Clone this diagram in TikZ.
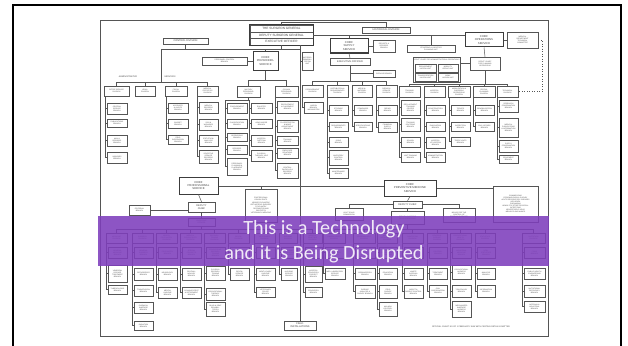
\documentclass[tikz,border=0pt]{standalone}
\usepackage{fontspec}
\setmainfont{Carlito}
\newfontfamily\chartfont{Liberation Sans}
\usetikzlibrary{calc}
\definecolor{chartln}{RGB}{85,85,85}
\definecolor{charttx}{RGB}{70,70,70}
\definecolor{bannerpurple}{RGB}{126,62,188}
\definecolor{bannertx}{RGB}{240,233,247}
\tikzset{
  ob/.style={draw=chartln, line width=0.5pt, inner sep=0.3pt, align=center,
    text=charttx, font=\chartfont\fontsize{1.75}{2.05}\selectfont},
  obk/.style={line width=1pt, draw=chartln!70!black,
    font=\chartfont\fontsize{2.8}{3.1}\selectfont},
  obmid/.style={font=\chartfont\fontsize{2.5}{2.8}\selectfont},
  obtop/.style={font=\chartfont\fontsize{3.1}{3.4}\selectfont},
  ln/.style={draw=chartln, line width=0.5pt},
  dotln/.style={draw=chartln, line width=0.5pt, dotted},
  lbl/.style={text=charttx, inner sep=0, font=\chartfont\itshape\fontsize{2.2}{2.4}\selectfont},
  bannertext/.style={text=bannertx, inner sep=0, anchor=base, font=\fontsize{20.2}{22}\selectfont},
}
% box given by its corners: [options]{name}{x1}{y1}{x2}{y2}{text}
\newcommand\orgbox[7][]{\node[ob,#1,minimum width={(#5-#3)*1pt},minimum height={(#6-#4)*1pt}]
  (#2) at ({(#3+#5)/2},{(#4+#6)/2}) {#7};}
% a column of branches hanging from the line left of them; #1 gives the top of that line
\newcommand\branchcol[2]{\foreach \b in {#2}{%
  \draw[ln] ([xshift=-1.5pt]\b.west |- #1) -- ([xshift=-1.5pt]\b.west) -- (\b.west);}}
% a row of divisions hanging from a bus at coordinate #1; #2 first, #3 last, #4 all
\newcommand\divbus[4]{%
  \draw[ln] (#2.north |- #1) -- (#3.north |- #1);
  \foreach \d in {#4}{\draw[ln] (\d.north) -- (\d.north |- #1);}}

\begin{document}
\begin{tikzpicture}[x=1pt,y=-1pt]
\useasboundingbox (0,0) rectangle (628,345);
\fill[white] (0,0) rectangle (628,345);

% slide frame and chart frame
\draw[line width=2pt, black] (13,352) -- (13,5) -- (621,5) -- (621,352);
\draw[chartln, line width=0.6pt] (100,20) rectangle (548,336);

% ---------- headquarters ----------
\orgbox[obtop]{sga}{250}{25}{313}{32}{THE SURGEON GENERAL}
\orgbox[obtop]{sgb}{250}{32}{313}{38}{DEPUTY SURGEON GENERAL}
\orgbox[obtop]{sgc}{250}{38}{313}{45}{EXECUTIVE OFFICER}
\draw[chartln!70!black, line width=0.9pt] (sga.north west) rectangle (sgc.south east);
\orgbox[obmid]{hist}{362}{27}{410}{33}{HISTORICAL DIVISION}
\orgbox[obmid]{ctrl}{163}{38}{208}{44}{CONTROL DIVISION}

% ---------- personnel ----------
\orgbox[obk]{cps}{253}{52}{278}{70}{CHIEF\\PERSONNEL\\SERVICE}
\orgbox{pcb}{202}{57}{247}{65}{PERSONNEL CONTROL\\BRANCH}
\orgbox{mdu}{302}{52}{313}{70}{MATERIEL\\DEMOBILI-\\ZATION\\UNIT}

\node[lbl] (admlbl) at (128,77) {ADMINISTRATIVE};
\node[lbl] (svclbl) at (170,77) {SERVICES};
\orgbox{osd}{104}{86}{129}{96}{OFFICE SERVICE\\DIVISION}
\orgbox{leg}{135}{86}{155}{96}{LEGAL\\DIVISION}
\orgbox{fis}{165}{86}{187}{96}{FISCAL\\DIVISION}
\orgbox{msd}{197}{86}{218}{96}{MEDICAL\\STATISTICS\\DIVISION}
\orgbox{mpd}{237}{86}{260}{97}{MILITARY\\PERSONNEL\\DIVISION}
\orgbox{cpd}{275}{86}{298}{97}{CIVILIAN\\PERSONNEL\\DIVISION}

\orgbox{os1}{107}{103}{127}{114}{CENTRAL\\SERVICE\\BRANCH}
\orgbox{os2}{107}{119}{127}{127}{PUBLICATIONS\\BRANCH}
\orgbox{os3}{107}{135}{127}{146}{MAIL \&\\RECORDS\\BRANCH}
\orgbox{os4}{107}{152}{127}{163}{INQUIRIES\\BRANCH}
\orgbox{fi1}{168}{103}{188}{113}{ACCOUNTS\\\& AUDITS\\BRANCH}
\orgbox{fi2}{168}{119}{188}{128}{BUDGET\\BRANCH}
\orgbox{fi3}{168}{135}{188}{144}{FIELD\\SUPERVISION\\BRANCH}
\orgbox{ms1}{199}{102}{218}{113}{MEDICAL\\RECORDS\\BRANCH}
\orgbox{ms2}{199}{119}{218}{130}{SICK \&\\WOUNDED\\BRANCH}
\orgbox{ms3}{199}{135}{218}{146}{STATISTICAL\\ANALYSIS\\BRANCH}
\orgbox{ms4}{199}{150}{218}{163}{SELECTIVE\\SERVICE\\RECORDS\\BRANCH}
\orgbox{ml1}{227}{103}{247}{113}{PROCUREMENT\\BRANCH}
\orgbox{ml2}{227}{119}{247}{128}{CLASSIFICATION\\BRANCH}
\orgbox{ml3}{227}{133}{247}{141}{OPERATIONS\\BRANCH}
\orgbox{ml4}{227}{145}{247}{154}{RECORDS\\BRANCH}
\orgbox{ml5}{227}{158}{247}{175}{PERSONNEL\\PLANNING \&\\PLACEMENT\\BRANCH}
\orgbox{mr1}{251}{103}{272}{113}{ENLISTED\\BRANCH}
\orgbox{mr2}{251}{119}{272}{128}{ARMY NURSE\\BRANCH}
\orgbox{mr3}{251}{135}{272}{146}{HOSPITAL\\DIETITIAN\\BRANCH}
\orgbox{mr4}{251}{150}{272}{161}{PHYSICAL\\THERAPY AIDE\\BRANCH}
\orgbox{cp1}{277}{101}{298}{113}{RECRUITMENT\\\& PLACEMENT\\BRANCH}
\orgbox{cp2}{277}{120}{298}{132}{CLASSIFICATION\\\& WAGE\\ADJUSTMENT\\BRANCH}
\orgbox{cp3}{277}{136}{298}{145}{TRAINING\\BRANCH}
\orgbox{cp4}{277}{148}{298}{158}{EMPLOYEE\\RELATIONS\\BRANCH}
\orgbox{cp5}{277}{163}{298}{178}{CENTRAL\\PAYROLLS \&\\RECORDS\\BRANCH}

% ---------- supply ----------
\orgbox[obk]{css}{330}{39}{368}{53}{CHIEF\\SUPPLY\\SERVICE}
\orgbox{rrb}{373}{40}{395}{52}{REPORTS \&\\RECORDS\\BRANCH}
\orgbox[obmid]{seo}{330}{58}{370}{65}{EXECUTIVE OFFICER}
\orgbox{cat}{373}{70}{395}{77}{CATALOG BRANCH}
\orgbox{prd}{302}{85}{323}{97}{PROCUREMENT\\DIVISION}
\orgbox{drd}{327}{85}{348}{97}{DISTRIBUTION \&\\REQUIREMENTS\\DIVISION}
\orgbox{mmd}{352}{85}{372}{97}{MEDICAL\\MATERIEL\\DIVISION}
\orgbox{srd}{376}{85}{397}{97}{REPAIR \&\\SERVICE\\DIVISION}
\orgbox{pr1}{304}{102}{323}{113}{LIAISON\\BRANCH\\WASHINGTON}
\orgbox{dr1}{329}{105}{348}{115}{STORAGE\\BRANCH}
\orgbox{dr2}{329}{122}{348}{131}{REQUIREMENTS\\BRANCH}
\orgbox{dr3}{329}{137}{348}{147}{ISSUE\\BRANCH}
\orgbox{dr4}{329}{150}{348}{165}{INVENTORY\\CONTROL\\BRANCH}
\orgbox{dr5}{329}{168}{348}{178}{MAINTENANCE\\BRANCH}
\orgbox{mm1}{354}{105}{372}{115}{STANDARDS\\BRANCH}
\orgbox{mm2}{354}{122}{372}{131}{SPECIFICATIONS\\BRANCH}
\orgbox{sr1}{378}{105}{397}{115}{REPAIR\\BRANCH}
\orgbox{sr2}{378}{122}{397}{132}{FINANCIAL\\SUPPLY\\BRANCH}

% ---------- operations ----------
\orgbox{slp}{407}{45}{455}{52}{STRATEGIC \& LOGISTICS\\PLANNING UNIT}
\orgbox[obk]{cos}{465}{33}{503}{47}{CHIEF\\OPERATIONS\\SERVICE}
\orgbox{mdt}{507}{32}{538}{48}{MEDICAL\\DEPARTMENT\\TECHNICAL\\COMMITTEE}
\orgbox{dca}{413}{57}{460}{82}{}
\node[ob, draw=none] (dcat) at (436.5,60) {DEPUTY CHIEF FOR ADMINISTRATION \& OPERATIONS};
\orgbox{dcu1}{415}{64}{436}{72}{REQUIREMENT\\LIAISON UNIT}
\orgbox{dcu2}{438}{64}{458}{72}{MOBILITY\\GROUP UNIT}
\orgbox{dcu3}{415}{73}{436}{81}{TRANSPORTATION\\LIAISON UNIT}
\orgbox{dcu4}{438}{73}{458}{81}{ARMY\\LIAISON UNIT}
\orgbox{dcp}{470}{57}{500}{70}{DEPUTY CHIEF\\FOR PLANNING\\OPERATIONS}
\orgbox{trd}{399}{86}{420}{97}{TRAINING\\DIVISION}
\orgbox{hod}{424}{86}{445}{97}{HOSPITAL\\DIVISION}
\orgbox{mod}{448}{86}{470}{97}{MOBILIZATION \&\\OVERSEAS\\OPERATIONS\\DIVISION}
\orgbox{spd}{473}{86}{495}{97}{SPECIAL\\PLANNING\\DIVISION}
\orgbox{ted}{497}{86}{518}{97}{TECHNICAL\\DIVISION}
\orgbox{tr1}{401}{100}{420}{115}{REPLACEMENT\\TRAINING\\CENTER\\BRANCH}
\orgbox{tr2}{401}{118}{420}{131}{TRAINING\\DOCTRINE\\BRANCH}
\orgbox{tr3}{401}{137}{420}{147}{SCHOOL\\BRANCH}
\orgbox{tr4}{401}{152}{420}{162}{UNIT TRAINING\\BRANCH}
\orgbox{ho1}{426}{105}{445}{115}{CONSTRUCTION\\BRANCH}
\orgbox{ho2}{426}{122}{445}{131}{EVACUATION\\BRANCH}
\orgbox{ho3}{426}{137}{445}{148}{HOSPITAL\\UTILIZATION\\BRANCH}
\orgbox{ho4}{426}{152}{445}{162}{ADMINISTRATION\\BRANCH}
\orgbox{mo1}{451}{105}{470}{115}{TROOPS\\BRANCH}
\orgbox{mo2}{451}{122}{470}{131}{INSPECTION\\BRANCH}
\orgbox{mo3}{451}{137}{470}{146}{TROOP UNITS\\BRANCH}
\orgbox{sp1}{475}{105}{494}{115}{DEMOBILIZATION\\BRANCH}
\orgbox{sp2}{475}{122}{494}{131}{CIVIL AFFAIRS\\BRANCH}
\orgbox{te1}{499}{100}{518}{112}{RESEARCH\\COORDINATION\\BRANCH}
\orgbox{te2}{499}{118}{518}{137}{MEDICAL\\PUBLICATIONS\\\& INFORMATION\\BRANCH}
\orgbox{te3}{499}{140}{518}{152}{SUPPLY\\COORDINATION\\BRANCH}
\orgbox{te4}{499}{155}{518}{163}{EQUIPMENT\\BRANCH}

% ---------- professional service ----------
\orgbox[obk]{cpr}{179}{177}{218}{194}{CHIEF\\PROFESSIONAL\\SERVICE}
\orgbox{pcs}{245}{189}{277}{222}{PROFESSIONAL\\CONSULTANTS\\NEUROPSYCHIATRIC\\ORTHOPEDIC SURGERY\\PSYCHIATRY\\RECONDITIONING\\DENTISTRY\\VETERINARY MEDICINE}
\orgbox[obmid]{pdc}{188}{202}{215}{212}{DEPUTY\\CHIEF}
\orgbox{edb}{129}{205}{150}{215}{EDITORIAL\\BRANCH}
\orgbox{pdu}{188}{218}{215}{226}{EXECUTIVE\\OFFICER}
\orgbox{pd1}{106}{233}{127}{243}{MEDICINE\\DIVISION}
\orgbox{pd2}{132}{233}{153}{243}{SURGERY\\DIVISION}
\orgbox{pd3}{156}{233}{177}{243}{NEURO-\\PSYCHIATRY\\DIVISION}
\orgbox{pd4}{180}{233}{201}{243}{MEDICAL\\CONSULTANTS\\DIVISION}
\orgbox{pd5}{204}{233}{225}{243}{RECONDI-\\TIONING\\DIVISION}
\orgbox{pd6}{228}{233}{249}{243}{DENTAL\\DIVISION}
\orgbox{pd7}{254}{233}{275}{243}{VETERINARY\\DIVISION}
\orgbox{pd8}{279}{233}{297}{243}{NURSING\\DIVISION}
\orgbox{pd9}{303}{233}{322}{243}{MEDICAL\\PRACTICE\\DIVISION}
\orgbox{p1a}{108}{247}{127}{258}{GENERAL\\MEDICINE\\BRANCH}
\orgbox{p1b}{108}{265}{127}{282}{VENEREAL\\DISEASE\\TREATMENT\\BRANCH}
\orgbox{p1c}{108}{285}{127}{294}{TUBERCULOSIS\\BRANCH}
\orgbox{p2a}{134}{247}{153}{258}{GENERAL\\SURGERY\\BRANCH}
\orgbox{p2b}{134}{268}{153}{280}{ORTHOPEDICS\\BRANCH}
\orgbox{p2c}{134}{285}{153}{296}{TRANSFUSION\\BRANCH}
\orgbox{p2d}{134}{302}{153}{313}{CHEMICAL\\WARFARE\\BRANCH}
\orgbox{p2e}{134}{321}{153}{330}{RADIATION\\BRANCH}
\orgbox{p3a}{158}{247}{177}{258}{PSYCHIATRY\\BRANCH}
\orgbox{p3b}{158}{268}{177}{280}{NEUROLOGY\\BRANCH}
\orgbox{p3c}{158}{287}{177}{298}{MENTAL\\HYGIENE\\BRANCH}
\orgbox{p4a}{182}{247}{201}{258}{SPECIAL\\PROJECTS\\BRANCH}
\orgbox{p4b}{182}{268}{201}{280}{OPHTHAL-\\MOLOGY\\BRANCH}
\orgbox{p4c}{182}{287}{201}{298}{CONVALESCENT\\\& RETIREMENT\\BRANCH}
\orgbox{p5a}{206}{247}{225}{258}{EDUCATIONAL\\RECONDI-\\TIONING\\BRANCH}
\orgbox{p5b}{206}{266}{225}{280}{PHYSICAL\\RECONDI-\\TIONING\\BRANCH}
\orgbox{p5c}{206}{288}{225}{300}{OCCUPATIONAL\\THERAPY\\BRANCH}
\orgbox{p5d}{206}{302}{225}{316}{BLIND \& DEAF\\REHABILI-\\TATION\\BRANCH}
\orgbox{p6a}{230}{247}{249}{258}{DENTAL\\PROSTHETICS\\BRANCH}
\orgbox{p6b}{230}{268}{249}{280}{DENTAL\\SERVICE\\BRANCH}
\orgbox{p7a}{256}{247}{275}{258}{VETERINARY\\SERVICE\\BRANCH}
\orgbox{p7b}{256}{268}{275}{280}{MEAT \& DAIRY\\HYGIENE\\BRANCH}
\orgbox{p7c}{256}{287}{275}{297}{VETERINARY\\POLICE\\BRANCH}
\orgbox{p8a}{281}{247}{297}{258}{NURSING\\EDUCATION\\BRANCH}
\orgbox{p8b}{281}{268}{297}{280}{NURSING\\SERVICE\\BRANCH}
\orgbox{p9a}{305}{247}{322}{258}{LIAISON\\BRANCH}
\orgbox{p9b}{305}{266}{322}{282}{HOSPITAL\\EDUCATION\\PROJECT\\BRANCH}
\orgbox{p9c}{305}{287}{322}{297}{EDUCATION\\BRANCH}
\orgbox[obmid]{fin}{284}{321}{316}{330}{FIELD\\INSTALLATIONS}

% ---------- preventive medicine ----------
\orgbox[obk]{pms}{384}{180}{436}{196}{CHIEF\\PREVENTIVE MEDICINE\\SERVICE}
\orgbox[obmid]{pmd}{393}{201}{422}{208}{DEPUTY CHIEF}
\orgbox{uty}{335}{208}{363}{220}{USA TYPHUS\\COMMISSION}
\orgbox{bft}{443}{208}{475}{222}{BOARD FOR THE\\CONTROL OF\\EPIDEMIC DISEASES}
\orgbox{dcb}{391}{211}{424}{224}{DEPUTY CHIEF FOR\\FIELD OPERATIONS}
\orgbox{com}{493}{186}{538}{222}{COMMISSIONS\\EPIDEMIOLOGICAL SURVEY\\ACUTE RESPIRATORY DISEASES\\INFLUENZA\\PNEUMONIA\\HEMOLYTIC STREPTOCOCCAL\\INFECTIONS\\NEUROTROPIC VIRUS\\MEASLES AND MUMPS}
\orgbox{qd1}{323}{233}{345}{243}{LABORATORIES\\DIVISION}
\orgbox{qd2}{353}{233}{375}{243}{EPIDEMIOLOGY\\DIVISION}
\orgbox{qd3}{377}{233}{397}{243}{MEDICAL\\INTELLIGENCE\\DIVISION}
\orgbox{qd4}{402}{233}{423}{243}{SANITATION\\DIVISION}
\orgbox{qd5}{427}{233}{447}{243}{VENEREAL\\DISEASE\\DIVISION}
\orgbox{qd6}{450}{233}{471}{243}{OCCUPATIONAL\\HEALTH\\DIVISION}
\orgbox{qd7}{475}{233}{495}{243}{STATISTICS\\DIVISION}
\orgbox{qd8}{522}{233}{545}{243}{NUTRITION\\DIVISION}
\orgbox{q1a}{325}{247}{345}{258}{GENERAL\\LABORATORY\\BRANCH}
\orgbox{q1b}{325}{268}{345}{279}{MED. LABORATORY\\SERVICE\\BRANCH}
\orgbox{q2a}{355}{247}{375}{258}{FIELD\\STUDY\\BRANCH}
\orgbox{q2b}{355}{268}{375}{279}{ORGANIZATION\\BRANCH}
\orgbox{q2c}{355}{285}{375}{298}{DISEASE\\ANALYSIS \&\\SURVEY BRANCH}
\orgbox{q3a}{379}{247}{397}{258}{FOREIGN\\INTELLIGENCE\\BRANCH}
\orgbox{q3b}{379}{268}{397}{279}{EDUCATION\\BRANCH}
\orgbox{q3c}{379}{285}{397}{298}{FIELD\\SURVEY\\BRANCH}
\orgbox{q3d}{379}{302}{397}{316}{MALARIA\\CONTROL\\BRANCH}
\orgbox{q4a}{404}{247}{423}{258}{WATER\\SUPPLY\\BRANCH}
\orgbox{q4b}{404}{268}{423}{279}{WASTE\\DISPOSAL\\BRANCH}
\orgbox{q4c}{404}{285}{423}{298}{INSECT \&\\RODENT CONTROL\\BRANCH}
\orgbox{q5a}{429}{247}{447}{258}{CONTROL\\BRANCH}
\orgbox{q5b}{429}{268}{447}{279}{TREATMENT\\BRANCH}
\orgbox{q5c}{429}{285}{447}{297}{CIVIL\\COORDINATION\\BRANCH}
\orgbox{q6a}{452}{247}{471}{258}{INDUSTRIAL\\MEDICINE\\BRANCH}
\orgbox{q6b}{452}{265}{471}{279}{OCCUPATIONAL\\HAZARDS\\BRANCH}
\orgbox{q6c}{452}{285}{471}{297}{TOXICOLOGY\\BRANCH}
\orgbox{q6d}{452}{301}{471}{317}{MECHANIZED\\WARFARE\\HAZARDS\\BRANCH}
\orgbox{q7a}{477}{247}{495}{258}{VITAL\\STATISTICS\\BRANCH}
\orgbox{q7b}{477}{268}{495}{279}{ANALYSIS\\BRANCH}
\orgbox{q7c}{477}{285}{495}{297}{INFORMATION\\BRANCH}
\orgbox{q8a}{524}{247}{545}{258}{FOOD\\BRANCH}
\orgbox{q8b}{524}{268}{545}{279}{PUBLIC HEALTH\\ENGINEERING\\BRANCH}
\orgbox{q8c}{524}{285}{545}{297}{NUTRITIONAL\\DEFICIENCY\\BRANCH}
\orgbox{q8d}{524}{301}{545}{312}{NATIONAL \&\\INDUSTRIAL\\BRANCH}
\node[ob, draw=none, font=\chartfont\fontsize{2.1}{2.3}\selectfont] (capt) at (471,327)
  {OFFICIAL CHART AS OF 1 FEBRUARY 1944 WITH CERTAIN DETAILS OMITTED};

% ---------- connectors ----------
\coordinate (histbus) at (0,22);
\coordinate (hq) at (0,49);
\coordinate (spx) at (300,0);
\coordinate (admtee) at (161,49);
\coordinate (admbus) at (0,82);
\coordinate (perbus) at (0,80);
\coordinate (supbus) at (0,81);
\coordinate (opsbus) at (0,84);
\coordinate (midbus) at (0,186);
\coordinate (profbus) at (0,229);
\coordinate (prevbus) at (0,229);
\coordinate (mpdbus) at (0,100);
\coordinate (dotx) at (542,0);

\draw[ln] (sga.north) -- (sga.north |- histbus) -| (hist.north);
\draw[ln] (sgc.south) -- (sgc.south |- hq);
\draw[ln] (admtee) -- (hq -| spx);
\draw[ln] (admtee) -- (admtee |- admbus);
\draw[ln] (ctrl.south) -- (ctrl.south |- hq);
\draw[ln] (cps.north) -- (cps.north |- hq);
\draw[ln] (pcb.east) -- (cps.west |- pcb.east);
\draw[ln] (sgc.south -| spx) -- (fin.north -| spx);
\draw[ln] (mdu.west) -- (mdu.west -| spx);

\divbus{admbus}{osd}{msd}{osd,leg,fis,msd}
\branchcol{osd.south}{os1,os2,os3,os4}
\branchcol{fis.south}{fi1,fi2,fi3}
\branchcol{msd.south}{ms1,ms2,ms3,ms4}
\draw[ln] (cps.south) -- (cps.south |- perbus);
\divbus{perbus}{mpd}{cpd}{mpd,cpd}
\draw[ln] (mpd.south) -- (mpd.south |- mpdbus);
\draw[ln] ([xshift=-1.5pt]ml1.west |- mpdbus) -- ([xshift=-1.5pt]mr1.west |- mpdbus);
\branchcol{mpdbus}{ml1,ml2,ml3,ml4,ml5}
\branchcol{mpdbus}{mr1,mr2,mr3,mr4}
\branchcol{cpd.south}{cp1,cp2,cp3,cp4,cp5}

% supply
\draw[ln] (sgb.east) -- (cos.west |- sgb.east);
\draw[ln] (css.north) -- (css.north |- sgb.east);
\draw[ln] (slp.north) -- (slp.north |- sgb.east);
\draw[ln] (css.east |- rrb.west) -- (rrb.west);
\draw[ln] (css.south) -- (seo.north);
\draw[ln] (seo.south) -- (seo.south |- supbus);
\draw[ln] (cat.west) -- (cat.west -| seo.south);
\divbus{supbus}{prd}{srd}{prd,drd,mmd,srd}
\branchcol{prd.south}{pr1}
\branchcol{drd.south}{dr1,dr2,dr3,dr4,dr5}
\branchcol{mmd.south}{mm1,mm2}
\branchcol{srd.south}{sr1,sr2}

% operations
\draw[ln] (cos.south) -- (dcp.north);
\draw[ln] (dcp.west) -- (dcp.west -| dca.east);
\draw[ln] (dcp.south) -- (dcp.south |- opsbus);
\divbus{opsbus}{trd}{ted}{trd,hod,mod,spd,ted}
\branchcol{trd.south}{tr1,tr2,tr3,tr4}
\branchcol{hod.south}{ho1,ho2,ho3,ho4}
\branchcol{mod.south}{mo1,mo2,mo3}
\branchcol{spd.south}{sp1,sp2}
\branchcol{ted.south}{te1,te2,te3,te4}
\draw[ln] (cos.east) -- (mdt.west |- cos.east);
\draw[dotln] (mdt.east) -- (mdt.east -| dotx) |- (ted.east);

% professional
\draw[ln] (cpr.east |- midbus) -- (pms.west |- midbus);
\draw[ln] (pcs.north) -- (pcs.north |- midbus);
\draw[ln] (cpr.south) -- (pdc.north);
\draw[ln] (edb.east) -- (edb.east -| pdc.west);
\draw[ln] (pdc.south) -- (pdu.north);
\draw[ln] (pdu.south) -- (pdu.south |- profbus);
\divbus{profbus}{pd1}{pd9}{pd1,pd2,pd3,pd4,pd5,pd6,pd7,pd8,pd9}
\branchcol{pd1.south}{p1a,p1b,p1c}
\branchcol{pd2.south}{p2a,p2b,p2c,p2d,p2e}
\branchcol{pd3.south}{p3a,p3b,p3c}
\branchcol{pd4.south}{p4a,p4b,p4c}
\branchcol{pd5.south}{p5a,p5b,p5c,p5d}
\branchcol{pd6.south}{p6a,p6b}
\branchcol{pd7.south}{p7a,p7b,p7c}
\branchcol{pd8.south}{p8a,p8b}
\branchcol{pd9.south}{p9a,p9b,p9c}

% preventive medicine
\draw[ln] (pms.south) -- (pmd.north);
\draw[ln] (uty.north) |- (pmd.west);
\draw[ln] (bft.north) |- (pmd.east);
\draw[ln] (pmd.south) -- (dcb.north);
\draw[ln] (pms.east) -- (pms.east -| com.west);
\draw[ln] (dcb.south) -- (dcb.south |- prevbus);
\divbus{prevbus}{qd1}{qd8}{qd1,qd2,qd3,qd4,qd5,qd6,qd7,qd8}
\branchcol{qd1.south}{q1a,q1b}
\branchcol{qd2.south}{q2a,q2b,q2c}
\branchcol{qd3.south}{q3a,q3b,q3c,q3d}
\branchcol{qd4.south}{q4a,q4b,q4c}
\branchcol{qd5.south}{q5a,q5b,q5c}
\branchcol{qd6.south}{q6a,q6b,q6c,q6d}
\branchcol{qd7.south}{q7a,q7b,q7c}
\branchcol{qd8.south}{q8a,q8b,q8c,q8d}

% ---------- title banner ----------
\node[fill=bannerpurple, fill opacity=0.88, inner sep=0, minimum width=451pt, minimum height=50pt]
  (banner) at (323.5,241) {};
\node[bannertext] (line1) at (324,234) {This is a Technology};
\node[bannertext] (line2) at (324,259) {and it is Being Disrupted};
\end{tikzpicture}
\end{document}
